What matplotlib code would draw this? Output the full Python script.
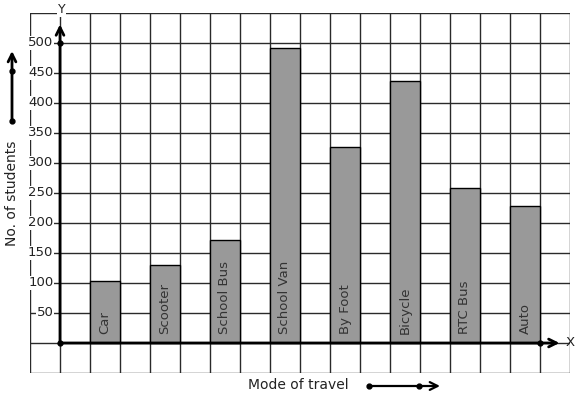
import matplotlib
matplotlib.use("Agg")
import matplotlib.pyplot as plt
import numpy as np

categories = ["Car", "Scooter", "School Bus", "School Van", "By Foot", "Bicycle", "RTC Bus", "Auto"]
values = [103, 130, 172, 491, 327, 437, 258, 229]
y_tick_values = [50, 100, 150, 200, 250, 300, 350, 400, 450, 500]
y_tick_labels = [str(v) for v in y_tick_values]

W, H = 577, 399
fig = plt.figure(figsize=(W / 100, H / 100), dpi=100)
ax = fig.add_axes([30 / W, (H - 373) / H, 540 / W, 360 / H])
ax.set_xlim(-1, 17)
ax.set_ylim(-50, 550)

gc = "#2a2a2a"
for xv in np.arange(-1, 18, 1):
    ax.axvline(xv, color=gc, lw=1, zorder=1)
for yv in np.arange(-50, 551, 50):
    ax.axhline(yv, color=gc, lw=1, zorder=1)
for s in ax.spines.values():
    s.set_visible(False)
ax.set_xticks([])
ax.set_yticks([])

xpos = np.arange(len(categories)) * 2 + 1.5
ax.bar(xpos, values, width=1.0, color="#999999", edgecolor="black", lw=1, zorder=2)
for x, c in zip(xpos, categories):
    ax.text(x, 15, c, rotation=90, ha="center", va="bottom", fontsize=9.5,
            color="#333333", zorder=3)

# axes arrows
ax.annotate("", xy=(0, 531), xytext=(0, 0),
            arrowprops=dict(arrowstyle="->", lw=2, color="black", shrinkA=0, shrinkB=0,
                            mutation_scale=14), zorder=4)
ax.annotate("", xy=(16.65, 0), xytext=(0, 0),
            arrowprops=dict(arrowstyle="->", lw=2, color="black", shrinkA=0, shrinkB=0,
                            mutation_scale=14), zorder=4)
ax.plot([0, 0, 16], [0, 500, 0], "o", color="black", ms=3.5, zorder=5, clip_on=False)
ax.text(0.05, 556, "Y", ha="center", va="center", fontsize=9, color="#222222",
        bbox=dict(facecolor="white", edgecolor="none", pad=0.5), zorder=6, clip_on=False)
ax.text(16.85, 0, "X", ha="left", va="center", fontsize=9.5, color="#222222", zorder=6)

for v, lab in zip(y_tick_values, y_tick_labels):
    ax.text(-0.22, v, lab, ha="right", va="center", fontsize=9.5, color="#222222",
            bbox=dict(facecolor="white", edgecolor="none", pad=0.3), zorder=6)

# decorations outside plot, in pixel coordinates
ov = fig.add_axes([0, 0, 1, 1])
ov.set_xlim(0, W)
ov.set_ylim(H, 0)
ov.axis("off")
ov.patch.set_alpha(0)
ov.text(12, 193, "No. of students", rotation=90, ha="center", va="center",
        fontsize=10, color="#222222")
ov.annotate("", xy=(12, 51), xytext=(12, 121),
            arrowprops=dict(arrowstyle="->", lw=2, color="black", shrinkA=0, shrinkB=0,
                            mutation_scale=14))
ov.plot([12, 12], [121, 71], "o", color="black", ms=3.5)
ov.text(298, 385, "Mode of travel", ha="center", va="center", fontsize=10, color="#222222")
ov.annotate("", xy=(440, 386), xytext=(369, 386),
            arrowprops=dict(arrowstyle="->", lw=1.6, color="black", shrinkA=0, shrinkB=0,
                            mutation_scale=14))
ov.plot([369, 419], [386, 386], "o", color="black", ms=3.5)

fig.savefig("out.png", dpi=100)
